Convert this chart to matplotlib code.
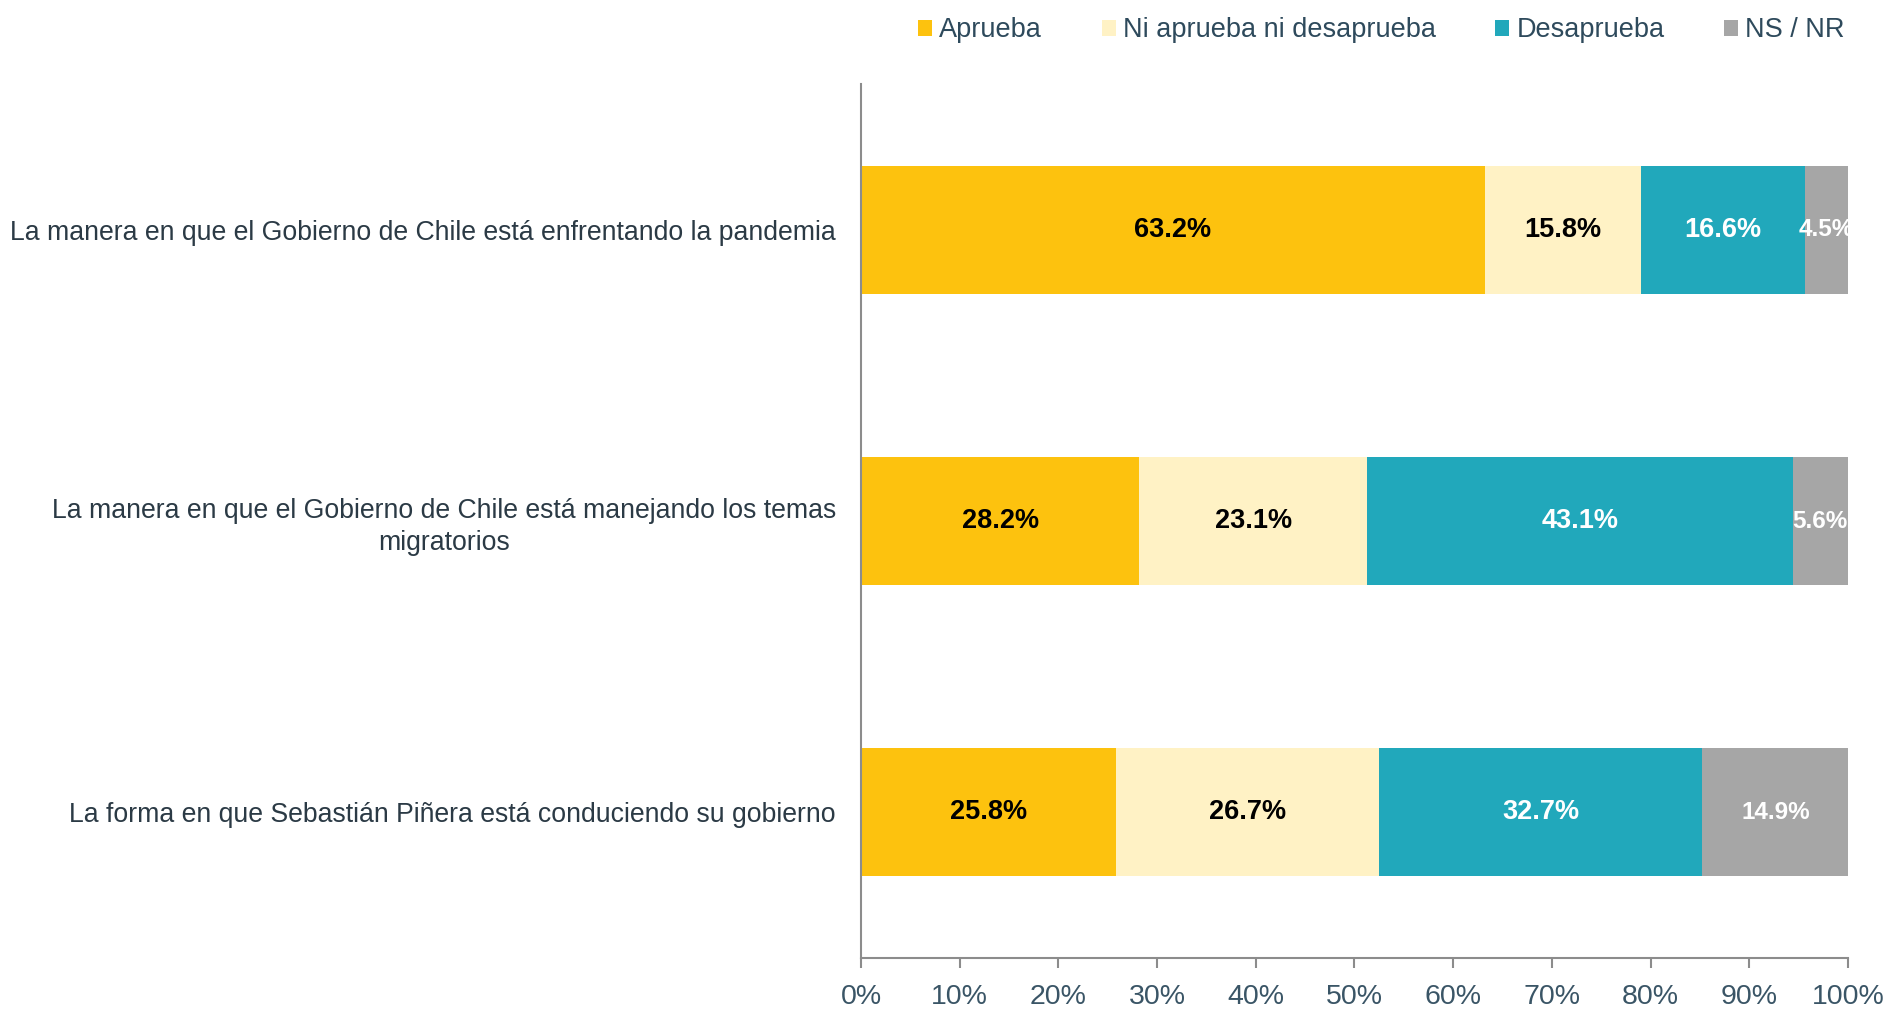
import matplotlib.pyplot as plt
from matplotlib.patches import Patch
import numpy as np

# data
preguntas = ["La manera en que el Gobierno de Chile está enfrentando la pandemia",
             "La manera en que el Gobierno de Chile está manejando los temas\nmigratorios",
             "La forma en que Sebastián Piñera está conduciendo su gobierno"]
series = ["Aprueba", "Ni aprueba ni desaprueba", "Desaprueba", "NS / NR"]
aprueba = [63.2, 28.2, 25.8]
ni_ni = [15.8, 23.1, 26.7]
desaprueba = [16.6, 43.1, 32.7]
ns_nr = [4.5, 5.6, 14.9]

colores = ["#FDC20E", "#FFF2C5", "#21A8BB", "#A6A6A6"]
txt_colores = ["black", "black", "white", "white"]
txt_sizes = [19.5, 19.5, 19.5, 17.5]

plt.rcParams['font.family'] = ['Liberation Sans', 'DejaVu Sans']

fig = plt.figure(figsize=(18.87, 10.09), dpi=100)
ax = fig.add_axes([0.4563, 0.0505, 0.5230, 0.8662])

valores = [aprueba, ni_ni, desaprueba, ns_nr]
y = np.arange(len(preguntas))
izq = np.zeros(len(preguntas))
for i, vals in enumerate(valores):
    vals = np.array(vals)
    ax.barh(y, vals, left=izq, height=0.44, color=colores[i], label=series[i])
    # etiquetas de valor dentro de cada segmento
    for j in range(len(y)):
        ax.text(izq[j] + vals[j] / 2, y[j], "%.1f%%" % vals[j], ha="center", va="center",
                fontsize=txt_sizes[i], fontweight="bold", color=txt_colores[i], clip_on=True)
    izq = izq + vals

ax.set_xlim(0, 100)
ax.set_ylim(2.5, -0.5)
ax.set_yticks(y)
ax.set_yticklabels(preguntas, fontsize=19.2, color="#2B3A45", multialignment="center",
                   linespacing=1.3)
ax.tick_params(axis="y", length=0, pad=18)
ax.set_xticks(np.arange(0, 101, 10))
ax.set_xticklabels(["%d%%" % v for v in range(0, 101, 10)], fontsize=20.5, color="#3A5566")
ax.tick_params(axis="x", length=7, color="#8C8C8C", width=1.5, pad=12)

for s in ["top", "right"]:
    ax.spines[s].set_visible(False)
for s in ["left", "bottom"]:
    ax.spines[s].set_color("#8C8C8C")
    ax.spines[s].set_linewidth(1.5)

handles = [Patch(facecolor=c, edgecolor="none") for c in colores]
leg = fig.legend(handles, series, loc="upper right", bbox_to_anchor=(0.9905, 1.007), ncol=4,
                 frameon=False, fontsize=19.5, handlelength=0.52, handleheight=0.52,
                 handletextpad=0.26, columnspacing=2.2)
for t in leg.get_texts():
    t.set_color("#2E4A5C")

plt.savefig("out.png")
